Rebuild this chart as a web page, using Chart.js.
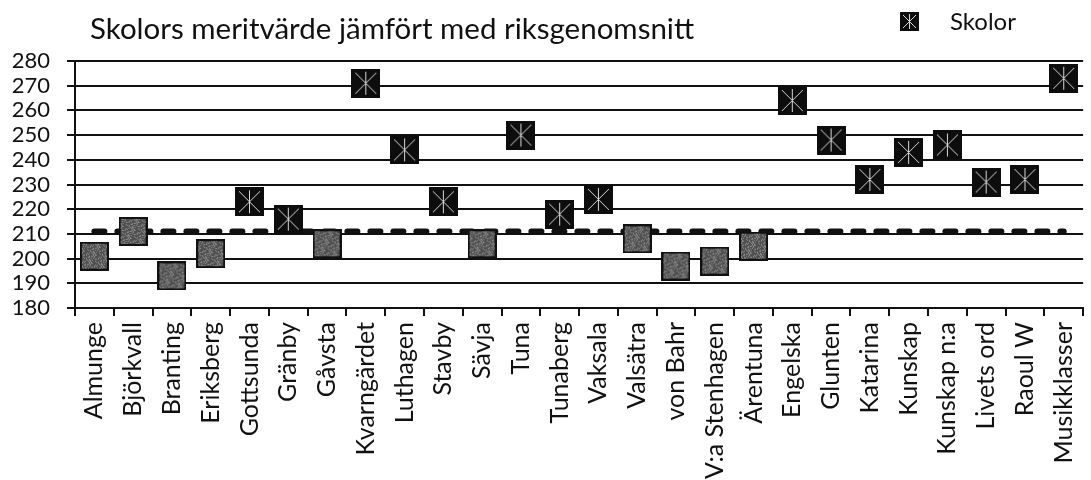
<!DOCTYPE html>
<html>
<head>
<meta charset="utf-8">
<script src="https://cdn.jsdelivr.net/npm/chart.js@4/dist/chart.umd.min.js"></script>
<style>
  html, body { margin: 0; padding: 0; background: #fff; overflow: hidden; }
  #wrap { position: relative; width: 1091px; height: 480px; overflow: hidden; }
  #meritChart { position: absolute; left: 0; top: 0; }
  #title { position: absolute; left: 90px; top: 13px; font: 29.5px Lato, sans-serif; line-height: 1; color: #111; white-space: nowrap; }
  #legend { position: absolute; left: 900px; top: 9px; display: flex; align-items: center; font: 24px Lato, sans-serif; line-height: 1; color: #111; }
  #legend canvas { margin-right: 31px; }
</style>
</head>
<body>
<div id="wrap">
  <canvas id="meritChart" width="1100" height="480"></canvas>
  <div id="title">Skolors meritvärde jämfört med riksgenomsnitt</div>
  <div id="legend"></div>
</div>
<script>
const schools = [
  "Almunge", "Björkvall", "Branting", "Eriksberg", "Gottsunda", "Gränby",
  "Gåvsta", "Kvarngärdet", "Luthagen", "Stavby", "Sävja", "Tuna",
  "Tunaberg", "Vaksala", "Valsätra", "von Bahr", "V:a Stenhagen", "Ärentuna",
  "Engelska", "Glunten", "Katarina", "Kunskap", "Kunskap n:a", "Livets ord",
  "Raoul W", "Musikklasser"
];
const meritValues = [
  201, 211, 193, 202, 223, 216,
  206, 271, 244, 223, 206, 250,
  218, 224, 208, 197, 199, 205,
  264, 248, 232, 243, 246, 231,
  232, 273
];
const nationalAverage = 211;
const averageLine = schools.map(() => nationalAverage);
const yMin = 180;
const yMax = 280;
const yStep = 10;
const seriesLabel = "Skolor";

function darkMarker(size) {
  const c = document.createElement("canvas");
  c.width = size; c.height = size;
  const g = c.getContext("2d");
  g.fillStyle = "#0d0d0d";
  g.fillRect(0, 0, size, size);
  g.strokeStyle = "#d8d8d8";
  g.lineWidth = 1;
  const a = Math.round(size * 0.15), b = size - a;
  g.beginPath();
  g.moveTo(a, a); g.lineTo(b, b);
  g.moveTo(b, a); g.lineTo(a, b);
  g.moveTo(size / 2, a - 1); g.lineTo(size / 2, b + 1);
  g.stroke();
  return c;
}

function grayMarker(size) {
  const c = document.createElement("canvas");
  c.width = size; c.height = size;
  const g = c.getContext("2d");
  g.fillStyle = "#4f4f4f";
  g.fillRect(0, 0, size, size);
  g.fillStyle = "#8f8f8f";
  for (let y = 1; y < size - 1; y++) {
    for (let x = 1; x < size - 1; x++) {
      if ((x * 3 + y * 5 + (x * y) % 4) % 7 < 2) g.fillRect(x, y, 1, 1);
    }
  }
  g.strokeStyle = "#111";
  g.lineWidth = 2;
  g.strokeRect(1, 1, size - 2, size - 2);
  return c;
}

const aboveIcon = darkMarker(29);
const belowIcon = grayMarker(29);

const ctx = document.getElementById("meritChart").getContext("2d");
const chart = new Chart(ctx, {
  type: "line",
  data: {
    labels: schools,
    datasets: [{
      label: seriesLabel,
      data: meritValues,
      showLine: false,
      pointStyle: c => (c.raw > nationalAverage ? aboveIcon : belowIcon),
      pointRadius: 14
    }, {
      label: "Riksgenomsnitt",
      data: averageLine,
      borderColor: "#111",
      borderWidth: 6,
      borderDash: [10, 13],
      borderCapStyle: "round",
      pointRadius: 0,
      tension: 0
    }]
  },
  options: {
    responsive: false,
    animation: false,
    layout: { padding: { top: 61, right: 1, left: 0, bottom: 0 } },
    plugins: {
      legend: { display: false },
      title: { display: false },
      tooltip: { enabled: false }
    },
    scales: {
      x: {
        offset: true,
        afterFit: s => { s.height = 172; },
        grid: { display: true, drawOnChartArea: false, drawTicks: true, tickLength: 8, offset: true, color: "#111", lineWidth: 2 },
        border: { display: true, color: "#111", width: 2 },
        ticks: { minRotation: 90, maxRotation: 90, autoSkip: false, padding: 6, color: "#111", font: { family: "Lato", size: 25 } }
      },
      y: {
        min: yMin,
        max: yMax,
        afterFit: s => { s.width = 75; },
        grid: { color: "#111", lineWidth: 2, drawTicks: true, tickLength: 8 },
        border: { display: true, color: "#111", width: 2 },
        ticks: { stepSize: yStep, autoSkip: false, padding: 17, color: "#111", font: { family: "Lato", size: 22 } }
      }
    }
  }
});

const legend = document.getElementById("legend");
legend.appendChild(darkMarker(19));
legend.appendChild(document.createTextNode(chart.data.datasets[0].label));
</script>
</body>
</html>
